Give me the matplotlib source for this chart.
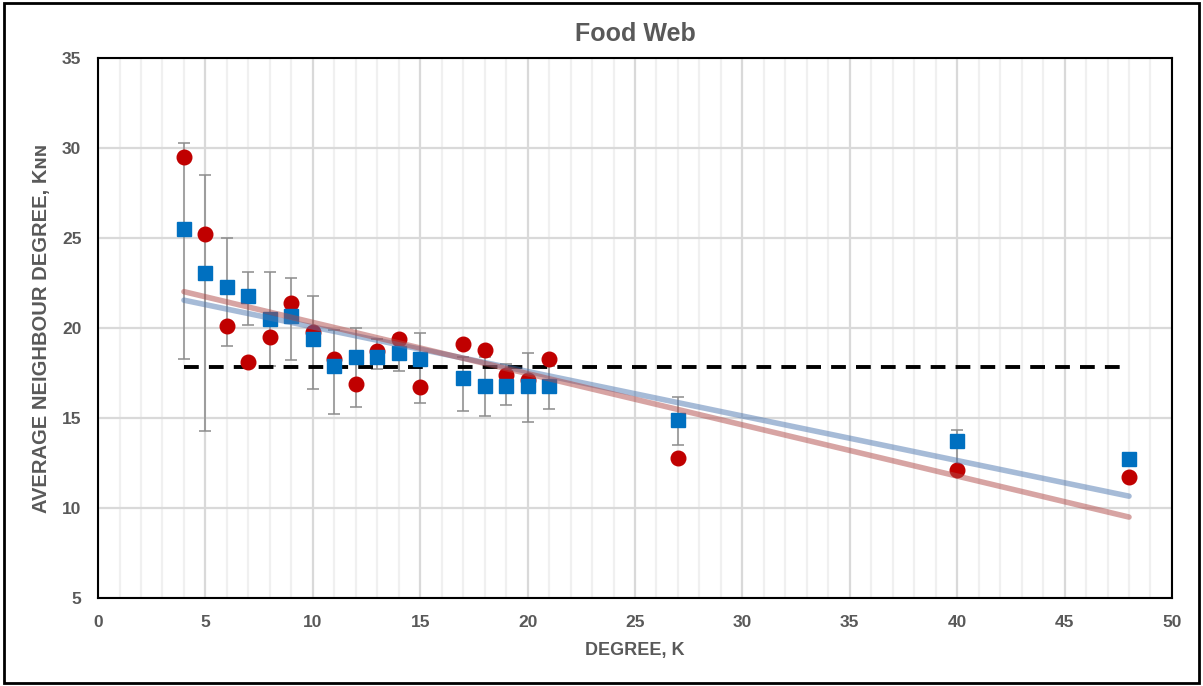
import numpy as np
import matplotlib.pyplot as plt
from matplotlib.patches import Rectangle
from matplotlib.ticker import MultipleLocator

# degree values
degree = [4, 5, 6, 7, 8, 9, 10, 11, 12, 13, 14, 15, 17, 18, 19, 20, 21, 27, 40, 48]

# red circles
knn_red = [29.5, 25.2, 20.1, 18.1, 19.5, 21.4, 19.8, 18.3, 16.9, 18.7,
           19.4, 16.7, 19.1, 18.8, 17.4, 17.1, 18.3, 12.8, 12.1, 11.7]

# blue squares
knn_blue = [25.5, 23.05, 22.3, 21.8, 20.5, 20.65, 19.4, 17.9, 18.4, 18.4,
            18.6, 18.3, 17.2, 16.8, 16.8, 16.8, 16.8, 14.9, 13.7, 12.7]

# error bar ends
err_high = [30.3, 28.5, 25.0, 23.1, 23.1, 22.8, 21.8, 19.9, 20.0, 19.4,
            19.6, 19.7, 18.4, 18.4, 18.0, 18.6, 17.9, 16.15, 14.35, 12.9]
err_low = [18.3, 14.3, 19.0, 20.15, 17.9, 18.2, 16.6, 15.2, 15.6, 17.7,
           17.6, 15.85, 15.4, 15.1, 15.7, 14.8, 15.5, 13.5, 12.3, 12.5]

random_level = 17.83

txt = '#595959'
fonts = ['Liberation Sans Narrow', 'Liberation Sans', 'DejaVu Sans']
plt.rcParams['font.family'] = fonts
plt.rcParams['font.weight'] = 'bold'

fig = plt.figure(figsize=(12.03, 6.86), dpi=100)
ax = fig.add_axes([0.0815, 0.1283, 0.8927, 0.7872])

x = np.array(degree, dtype=float)
red = np.array(knn_red)
blue = np.array(knn_blue)

ax.errorbar(x, blue, yerr=[blue - np.array(err_low), np.array(err_high) - blue],
            fmt='none', ecolor='#8c8c8c', elinewidth=1.1, capsize=4, capthick=1.1, zorder=2)

ax.plot([x[0], x[-1]], [random_level, random_level], color='black', lw=2.8,
        dashes=(3.8, 2.6), zorder=3)

ax.plot(x, red, 'o', color='#c00000', ms=10.5, mec='#c00000', zorder=4)
ax.plot(x, blue, 's', color='#0070c0', ms=10, mec='#0070c0', zorder=5)

# linear trendlines
xs = np.array([x[0], x[-1]])
b_fit = np.polyfit(x, blue, 1)
r_fit = np.polyfit(x, red, 1)
ax.plot(xs, np.polyval(b_fit, xs), color='#4f78b0', alpha=0.5, lw=4, solid_capstyle='round', zorder=6)
ax.plot(xs, np.polyval(r_fit, xs), color='#b04a48', alpha=0.5, lw=4, solid_capstyle='round', zorder=6)

ax.set_xlim(0, 50)
ax.set_ylim(5, 35)
ax.xaxis.set_major_locator(MultipleLocator(5))
ax.xaxis.set_minor_locator(MultipleLocator(1))
ax.yaxis.set_major_locator(MultipleLocator(5))
ax.grid(which='major', axis='both', color='#d9d9d9', lw=1.6, zorder=0)
ax.grid(which='minor', axis='x', color='#f0f0f0', lw=1.6, zorder=0)
ax.set_axisbelow(True)
ax.tick_params(which='both', length=0, labelsize=12.5, labelcolor=txt)
ax.tick_params(axis='x', pad=12)
ax.tick_params(axis='y', pad=12)
for s in ax.spines.values():
    s.set_color('black')
    s.set_linewidth(1.5)

ax.set_title('Food Web', fontsize=18, color=txt, fontweight='bold', pad=12)
ax.set_xlabel('DEGREE, K', fontsize=13, color=txt, fontweight='bold', labelpad=9)
ax.set_ylabel('AVERAGE NEIGHBOUR DEGREE, K\u0274\u0274', fontsize=14.5, color=txt,
              fontweight='bold', labelpad=8, family=fonts)

fig.patches.append(Rectangle((0.003, 0.004), 0.994, 0.991, transform=fig.transFigure,
                             fill=False, edgecolor='black', lw=2))

fig.savefig('out.png', dpi=100)
